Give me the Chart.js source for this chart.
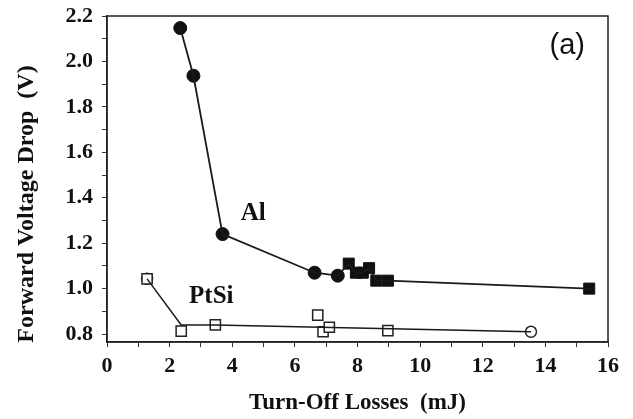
<!DOCTYPE html>
<html>
<head>
<meta charset="utf-8">
<script src="https://cdn.jsdelivr.net/npm/chart.js@4.4.1/dist/chart.umd.min.js"></script>
<style>
  html, body { margin: 0; padding: 0; background: #fff; }
  #wrap { width: 633px; height: 419px; }
</style>
</head>
<body>
<div id="wrap"><canvas id="chart"></canvas></div>
<script>
// Al samples: filled circles then filled squares
const alCircleX = [2.34, 2.76, 3.69, 6.63, 7.37];
const alCircleY = [2.147, 1.937, 1.24, 1.07, 1.057];
const alSquareX = [7.72, 7.95, 8.17, 8.37, 8.6, 8.97, 15.4];
const alSquareY = [1.11, 1.07, 1.07, 1.09, 1.035, 1.035, 1.0];

// PtSi samples: open squares and open circles
const ptsiSquareX = [1.28, 2.37, 3.46, 6.73, 6.9, 7.1, 8.97];
const ptsiSquareY = [1.043, 0.813, 0.84, 0.883, 0.81, 0.83, 0.815];
const ptsiCircleX = [1.28, 13.54];
const ptsiCircleY = [1.043, 0.81];
// PtSi trend line
const ptsiLineX = [1.28, 2.37, 3.46, 13.54];
const ptsiLineY = [1.043, 0.84, 0.84, 0.81];

const xTicks = [0, 1, 2, 3, 4, 5, 6, 7, 8, 9, 10, 11, 12, 13, 14, 15, 16];
const xTickLabels = ['0', '', '2', '', '4', '', '6', '', '8', '', '10', '', '12', '', '14', '', '16'];
const yTicks = [0.8, 0.9, 1.0, 1.1, 1.2, 1.3, 1.4, 1.5, 1.6, 1.7, 1.8, 1.9, 2.0, 2.1, 2.2];
const yTickLabels = ['0.8', '', '1.0', '', '1.2', '', '1.4', '', '1.6', '', '1.8', '', '2.0', '', '2.2'];

const pts = (xs, ys) => xs.map((x, i) => ({ x: x, y: ys[i] }));

const alLine = pts(alCircleX.concat(alSquareX), alCircleY.concat(alSquareY))
    .sort((a, b) => a.x - b.x);

const serif = '"Liberation Serif", "Times New Roman", serif';

const frameAndText = {
    id: 'frameAndText',
    afterDraw(chart) {
        const c = chart.ctx;
        const a = chart.chartArea;
        const xs = chart.scales.x, ys = chart.scales.y;
        c.save();
        c.strokeStyle = '#222';
        c.lineWidth = 1.5;
        c.strokeRect(a.left, a.top, a.right - a.left, a.bottom - a.top);
        c.fillStyle = '#111';
        c.textAlign = 'center';
        c.textBaseline = 'middle';
        c.font = 'bold 25px ' + serif;
        c.fillText('Al', xs.getPixelForValue(4.67), ys.getPixelForValue(1.33));
        c.fillText('PtSi', xs.getPixelForValue(3.33), ys.getPixelForValue(0.966));
        c.font = '29px "Liberation Sans", Arial, sans-serif';
        c.fillText('(a)', xs.getPixelForValue(14.7), ys.getPixelForValue(2.07));
        // y axis title sits a bit below the middle of the axis in the original
        c.translate(27, (a.top + a.bottom) / 2 + 25);
        c.rotate(-Math.PI / 2);
        c.font = 'bold 24px ' + serif;
        c.fillText('Forward Voltage Drop  (V)', 0, 0);
        c.restore();
    }
};

new Chart(document.getElementById('chart'), {
    type: 'scatter',
    data: {
        datasets: [
            {
                data: alLine,
                showLine: true,
                borderColor: '#1a1a1a',
                borderWidth: 1.8,
                pointRadius: 0
            },
            {
                data: pts(ptsiLineX, ptsiLineY),
                showLine: true,
                borderColor: '#1a1a1a',
                borderWidth: 1.5,
                pointRadius: 0
            },
            {
                data: pts(alCircleX, alCircleY),
                pointStyle: 'circle',
                pointRadius: 6.5,
                backgroundColor: '#111',
                borderColor: '#111',
                borderWidth: 1
            },
            {
                data: pts(alSquareX, alSquareY),
                pointStyle: 'rect',
                pointRadius: 7.8,
                backgroundColor: '#111',
                borderColor: '#111',
                borderWidth: 1
            },
            {
                data: pts(ptsiSquareX, ptsiSquareY),
                pointStyle: 'rect',
                pointRadius: 7.2,
                backgroundColor: '#fff',
                borderColor: '#222',
                borderWidth: 1.5
            },
            {
                data: pts(ptsiCircleX, ptsiCircleY),
                pointStyle: 'circle',
                pointRadius: 5.5,
                backgroundColor: 'rgba(255,255,255,0)',
                borderColor: '#222',
                borderWidth: 1.5
            }
        ]
    },
    options: {
        responsive: true,
        maintainAspectRatio: false,
        animation: false,
        layout: { padding: { top: 16, right: 25, left: 0, bottom: 0 } },
        plugins: {
            legend: { display: false },
            tooltip: { enabled: false }
        },
        scales: {
            x: {
                type: 'linear',
                min: 0,
                max: 16,
                afterFit(s) { s.height = 77; s.paddingRight = 0; },
                afterBuildTicks(s) { s.ticks = xTicks.map(v => ({ value: v })); },
                grid: {
                    drawOnChartArea: false,
                    tickLength: 5,
                    color: '#333'
                },
                border: { color: '#222', width: 1.5 },
                ticks: {
                    autoSkip: false,
                    maxRotation: 0,
                    padding: 6,
                    color: '#111',
                    font: { family: serif, size: 22, weight: 'bold' },
                    callback: (v, i) => xTickLabels[i]
                },
                title: {
                    display: true,
                    text: 'Turn-Off Losses  (mJ)',
                    color: '#111',
                    font: { family: serif, size: 23, weight: 'bold' },
                    padding: { top: 6, bottom: 2 }
                }
            },
            y: {
                type: 'linear',
                min: 0.765,
                max: 2.2,
                afterFit(s) { s.width = 107; s.paddingTop = 0; s.paddingBottom = 0; },
                afterBuildTicks(s) { s.ticks = yTicks.map(v => ({ value: v })); },
                grid: {
                    drawOnChartArea: false,
                    tickLength: 5,
                    color: '#333'
                },
                border: { color: '#222', width: 1.5 },
                ticks: {
                    autoSkip: false,
                    padding: 9,
                    color: '#111',
                    font: { family: serif, size: 22, weight: 'bold' },
                    callback: (v, i) => yTickLabels[i]
                },
                title: { display: false }
            }
        }
    },
    plugins: [frameAndText]
});
</script>
</body>
</html>
